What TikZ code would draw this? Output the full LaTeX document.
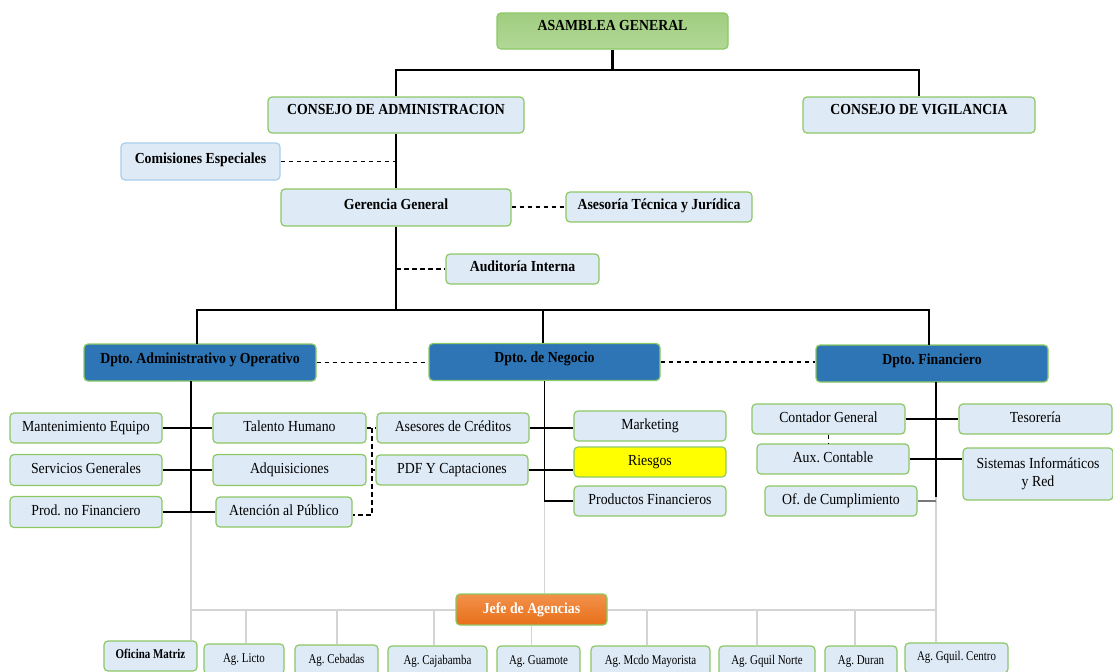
\documentclass[tikz,border=0pt]{standalone}
\usepackage{fontspec}
\setmainfont{Liberation Serif}[FakeStretch=0.9]
\newfontfamily\condfont{Liberation Serif}[FakeStretch=0.82]
\usetikzlibrary{calc,backgrounds}
\frenchspacing

\definecolor{boxfill}{RGB}{222,234,246}
\definecolor{boxedge}{RGB}{140,200,100}
\definecolor{comedge}{RGB}{170,205,235}
\definecolor{deptfill}{RGB}{46,117,182}
\definecolor{greentop}{RGB}{160,205,128}
\definecolor{greenbot}{RGB}{178,216,150}
\definecolor{orangetop}{RGB}{242,145,75}
\definecolor{orangebot}{RGB}{232,112,25}
\definecolor{linegray}{RGB}{212,212,212}
\definecolor{darkgray}{RGB}{120,120,120}
\definecolor{yellowfill}{RGB}{255,255,0}

\tikzset{
  sz/.style 2 args={minimum width=#1*0.75pt, minimum height=#2*0.75pt},
  box/.style={draw=boxedge, fill=boxfill, rounded corners=3pt, line width=0.9pt,
    inner sep=0pt, text height=7.8pt, text depth=2.3pt, font=\fontsize{11.5}{13.5}\selectfont},
  hdr/.style={box, font=\fontsize{11.5}{13.5}\selectfont\bfseries},
  lift/.style={text depth=#1},
  dept/.style={hdr, fill=deptfill},
  agency/.style={box, font=\fontsize{10}{12}\selectfont\condfont},
  mainline/.style={line width=1.7pt},
  subline/.style={line width=0.9pt},
  dashline/.style={line width=0.8pt, dash pattern=on 3.5pt off 2.5pt},
  grayline/.style={line width=1pt, draw=linegray}
}

\begin{document}
\begin{tikzpicture}[x=0.75pt, y=-0.75pt]
\useasboundingbox (0,0) rectangle (1113,671);
\clip (0,0) rectangle (1113,671);

% ---------- top level ----------
\node[hdr, lift=8.5pt, sz={231}{36}, draw=boxedge, top color=greentop, bottom color=greenbot] (ag) at (612.5,31) {ASAMBLEA GENERAL};
\node[hdr, lift=8.5pt, sz={256}{36}] (ca) at (396,115) {CONSEJO DE ADMINISTRACION};
\node[hdr, lift=8.5pt, sz={232}{36}] (cv) at (919,115) {CONSEJO DE VIGILANCIA};
\node[hdr, lift=5.5pt, sz={159}{37}, draw=comedge] (ce) at (200.5,161.5) {Comisiones Especiales};
\node[hdr, lift=5.5pt, sz={230}{37}] (gg) at (396,207.5) {Gerencia General};
\node[hdr, lift=4pt, sz={186}{30}] (at) at (659,207) {Asesoría Técnica y Jurídica};
\node[hdr, lift=4pt, sz={153}{30}] (ai) at (522.5,269) {Auditoría Interna};

% ---------- departments ----------
\node[dept, lift=6.5pt, sz={232}{37}] (da) at (200,362.5) {Dpto. Administrativo y Operativo};
\node[dept, lift=6.5pt, sz={231}{37}] (dn) at (544.5,362) {Dpto. de Negocio};
\node[dept, lift=6.5pt, sz={232}{37}] (df) at (932,363.5) {Dpto. Financiero};

% ---------- administrative units ----------
\node[box, sz={152}{30}] (me) at (86,428) {Mantenimiento Equipo};
\node[box, sz={152}{31}] (sg) at (86,470) {Servicios Generales};
\node[box, sz={152}{31}] (pn) at (86,512) {Prod. no Financiero};
\node[box, sz={153}{30}] (th) at (289.5,428) {Talento Humano};
\node[box, sz={153}{31}] (aq) at (289.5,470) {Adquisiciones};
\node[box, sz={136}{30}] (ap) at (284,512) {Atención al Público};

% ---------- business units ----------
\node[box, sz={152}{30}] (as) at (453,428) {Asesores de Créditos};
\node[box, sz={152}{30}] (pdf) at (452,470) {PDF Y Captaciones};
\node[box, sz={152}{30}] (mk) at (650,426) {Marketing};
\node[box, sz={152}{30}, fill=yellowfill] (ri) at (650,462) {Riesgos};
\node[box, sz={152}{30}] (pf) at (650,501) {Productos Financieros};

% ---------- financial units ----------
\node[box, sz={153}{30}] (cg) at (828.5,419) {Contador General};
\node[box, sz={153}{30}] (te) at (1035.5,419) {Tesorería};
\node[box, sz={152}{30}] (ax) at (833,459) {Aux. Contable};
\node[box, sz={150}{52}, align=center, text height=, text depth=] (si) at (1038,474) {Sistemas Informáticos\\y Red};
\node[box, sz={152}{30}] (oc) at (841,501) {Of. de Cumplimiento};

% ---------- agencies ----------
\node[hdr, sz={151}{31}, draw=boxedge, top color=orangetop, bottom color=orangebot,
      text=white, font=\fontsize{11.5}{13}\selectfont\bfseries] (jf) at (531.5,609.5) {Jefe de Agencias};
\node[agency, sz={93}{30}, lift=4pt, font=\fontsize{10}{12}\selectfont\condfont\bfseries] (om) at (150.5,656) {Oficina Matriz};
\node[agency, sz={80}{30}] (li) at (244,659) {Ag. Licto};
\node[agency, sz={83}{30}] (cb) at (336.5,660) {Ag. Cebadas};
\node[agency, sz={99}{30}] (cj) at (437.5,661) {Ag. Cajabamba};
\node[agency, sz={83}{30}] (gu) at (538.5,661) {Ag. Guamote};
\node[agency, sz={119}{30}] (mm) at (650.5,661) {Ag. Mcdo Mayorista};
\node[agency, sz={96}{30}] (gn) at (767,661) {Ag. Gquil Norte};
\node[agency, sz={72}{30}] (du) at (861,661) {Ag. Duran};
\node[agency, sz={103}{30}, lift=4pt] (gc) at (956.5,658) {Ag. Gquil. Centro};

% ---------- junction points ----------
\coordinate (topbus) at (612.5,70);
\coordinate (deptbus) at (396,310);
\coordinate (admtop) at (191,381);
\coordinate (admend) at (191,512);
\coordinate (negend) at (544.5,501);
\coordinate (fintop) at (936,382);
\coordinate (finend) at (936,497);
\coordinate (brk) at (372,515);
\coordinate (busL) at (191,610);
\coordinate (busR) at (936,610);
\coordinate (dLi) at (246,610);
\coordinate (dCb) at (337,610);
\coordinate (dCj) at (434,610);
\coordinate (dMm) at (647,610);
\coordinate (dGn) at (757,610);
\coordinate (dDu) at (855,610);

\begin{scope}[on background layer]
% agency distribution lines (light gray)
\draw[grayline] (admend) -- (busL) -- (busR);
\draw[grayline] (busL) -- (busL |- om.north);
\draw[grayline] (finend) -- (busR) -- (busR |- gc.north);
\draw[grayline] (negend) -- (jf.north -| negend);
\draw[grayline] (jf.south) -- (jf.south |- gu.north);
\foreach \d/\b in {dLi/li, dCb/cb, dCj/cj, dMm/mm, dGn/gn, dDu/du}
  \draw[grayline] (\d) -- (\d |- \b.north);
\end{scope}

% ---------- governance connectors ----------
\draw[mainline] (ag.south) -- (topbus);
\draw[mainline] (ca.north) |- (topbus) -| (cv.north);
\draw[mainline] (ca.south) -- (gg.north);
\draw[mainline] (gg.south) -- (deptbus);
\draw[mainline] (deptbus) -| (197,344);
\draw[mainline] (deptbus) -| (543,343);
\draw[mainline] (deptbus) -| (929,345);
\draw[dashline] (ce.east) -- (ce.east -| ca.south);
\draw[dashline] (at.west -| gg.east) -- (at.west);
\draw[dashline] (ai.west -| gg.south) -- (ai.west);
\draw[dashline] (da.east) -- (da.east -| dn.west);
\draw[dashline] (dn.east) -- (dn.east -| df.west);

% ---------- administrative connectors ----------
\draw[subline] (admtop) -- (admend);
\draw[subline] (me.east) -- (th.west);
\draw[subline] (sg.east) -- (aq.west);
\draw[subline] (pn.east) -- (ap.west);
\draw[dashline] (th.east) -- (as.west);
\draw[dashline] (372,428) -- (brk) -- (brk -| ap.east);
\draw[dashline] (372,470) -- (pdf.west);

% ---------- business connectors ----------
\draw[subline] (dn.south) -- (negend) -- (pf.west);
\draw[subline] (as.east) -- (as.east -| mk.west);
\draw[subline] (pdf.east) -- (pdf.east -| ri.west);

% ---------- financial connectors ----------
\draw[subline] (fintop) -- (finend);
\draw[subline] (cg.east) -- (te.west);
\draw[subline] (ax.east) -- (ax.east -| si.west);
\draw[line width=0.9pt, draw=darkgray] (oc.east) -- (finend |- oc.east);
\draw[dashline] (cg.south) -- (cg.south |- ax.north);
\end{tikzpicture}
\end{document}
